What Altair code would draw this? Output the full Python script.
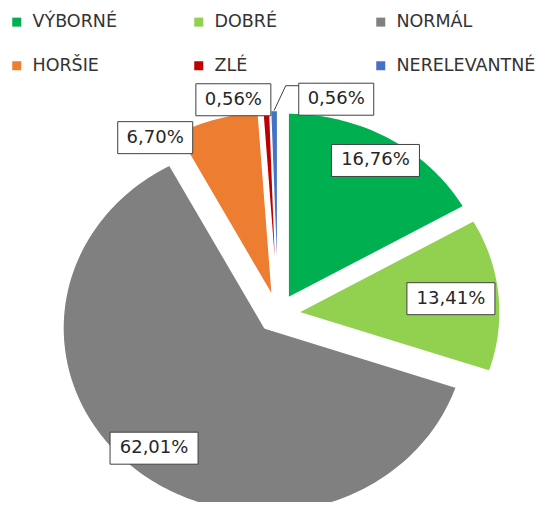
import math
import altair as alt
import pandas as pd

# ---------------- data ----------------
categories = ["VÝBORNÉ", "DOBRÉ", "NORMÁL", "HORŠIE", "ZLÉ", "NERELEVANTNÉ"]
shares = [16.76, 13.41, 62.01, 6.70, 0.56, 0.56]
label_texts = ["16,76%", "13,41%", "62,01%", "6,70%", "0,56%", "0,56%"]

# ---------------- style / layout ----------------
colors = ["#00b050", "#92d050", "#808080", "#ed7d31", "#c00000", "#4472c4"]
W, H = 543, 494          # plot area (px)
CX, CY = 270, 306        # pie centre inside plot area (px)
RX, RY = 202, 185        # pixels per pie radius (x / y)
EXPLODE = 0.10           # explode distance (pie radii)
label_r = [0.86, 0.76, 0.85, 1.035, 1.08, 1.10]
label_turn = [0, 0, 0, -18, -8.5, 16.3]
BOX_H = 32
FONT = "DejaVu Sans"

x_dom = [-CX / RX, (W - CX) / RX]
y_dom = [-(H - CY) / RY, CY / RY]
xs = alt.Scale(domain=x_dom, nice=False, zero=False)
ys = alt.Scale(domain=y_dom, nice=False, zero=False)

# ---------------- geometry from data ----------------
total = sum(shares)
poly_rows, lab_rows, lead_rows = [], [], []
acc = 0.0
for i, (cat, s, txt) in enumerate(zip(categories, shares, label_texts)):
    a0 = acc / total * 360.0
    acc += s
    a1 = acc / total * 360.0
    mid = (a0 + a1) / 2
    ox = EXPLODE * math.sin(math.radians(mid))
    oy = EXPLODE * math.cos(math.radians(mid))
    n = max(3, int(round(s * 3)))
    k = 0
    poly_rows.append(dict(cat=cat, k=k, x=ox, y=oy)); k += 1
    for j in range(n + 1):
        t = math.radians(a0 + (a1 - a0) * j / n)
        poly_rows.append(dict(cat=cat, k=k, x=ox + math.sin(t), y=oy + math.cos(t))); k += 1
    poly_rows.append(dict(cat=cat, k=k, x=ox, y=oy))

    ang = math.radians(mid + label_turn[i])
    lx = ox + label_r[i] * math.sin(ang)
    ly = oy + label_r[i] * math.cos(ang)
    bw = 88 if len(txt) >= 6 else 75
    lab_rows.append(dict(cat=cat, text=txt, x=lx, y=ly,
                         x1=lx - bw / 2 / RX, x2=lx + bw / 2 / RX,
                         y1=ly - BOX_H / 2 / RY, y2=ly + BOX_H / 2 / RY))
    if i == len(categories) - 1:
        sx = ox + 1.0 * math.sin(math.radians(mid))
        sy = oy + 1.0 * math.cos(math.radians(mid))
        bx = lx - bw / 2 / RX
        by = ly + 13.5 / RY
        lead_rows += [dict(k=0, x=sx, y=sy), dict(k=1, x=bx - 13 / RX, y=by), dict(k=2, x=bx, y=by)]

poly = pd.DataFrame(poly_rows)
labs = pd.DataFrame(lab_rows)
lead = pd.DataFrame(lead_rows)

legend = alt.Legend(
    title=None, orient="none", legendX=0, legendY=5, direction="horizontal",
    columns=3, columnPadding=18, rowPadding=25, gridAlign="all",
    symbolType="square", symbolSize=81, symbolStrokeWidth=0, symbolOpacity=1,
    labelFont=FONT, labelFontSize=17.5, labelColor="#333333", labelOffset=7,
    labelLimit=300, padding=0,
)

slices = alt.Chart(poly).mark_line(stroke="white", strokeWidth=1.5, interpolate="linear").encode(
    x=alt.X("x:Q", scale=xs, axis=None),
    y=alt.Y("y:Q", scale=ys, axis=None),
    fill=alt.Fill("cat:N", scale=alt.Scale(domain=categories, range=colors),
                  sort=categories, legend=legend),
    detail="cat:N",
    order=alt.Order("k:Q"),
)

leader = alt.Chart(lead).mark_line(color="#404040", strokeWidth=1).encode(
    x=alt.X("x:Q", scale=xs, axis=None),
    y=alt.Y("y:Q", scale=ys, axis=None),
    order=alt.Order("k:Q"),
)

boxes = alt.Chart(labs).mark_rect(fill="white", stroke="#404040", strokeWidth=1).encode(
    x=alt.X("x1:Q", scale=xs, axis=None), x2="x2:Q",
    y=alt.Y("y1:Q", scale=ys, axis=None), y2="y2:Q",
)

texts = alt.Chart(labs).mark_text(font=FONT, fontSize=18, color="#262626", baseline="middle").encode(
    x=alt.X("x:Q", scale=xs, axis=None),
    y=alt.Y("y:Q", scale=ys, axis=None),
    text="text:N",
)

chart = alt.layer(slices, leader, boxes, texts).properties(
    width=W, height=H, padding=0, autosize=alt.AutoSizeParams(type="none")
).configure_view(stroke=None)

chart.save("out.html", embed_options={"renderer": "svg", "actions": False})
